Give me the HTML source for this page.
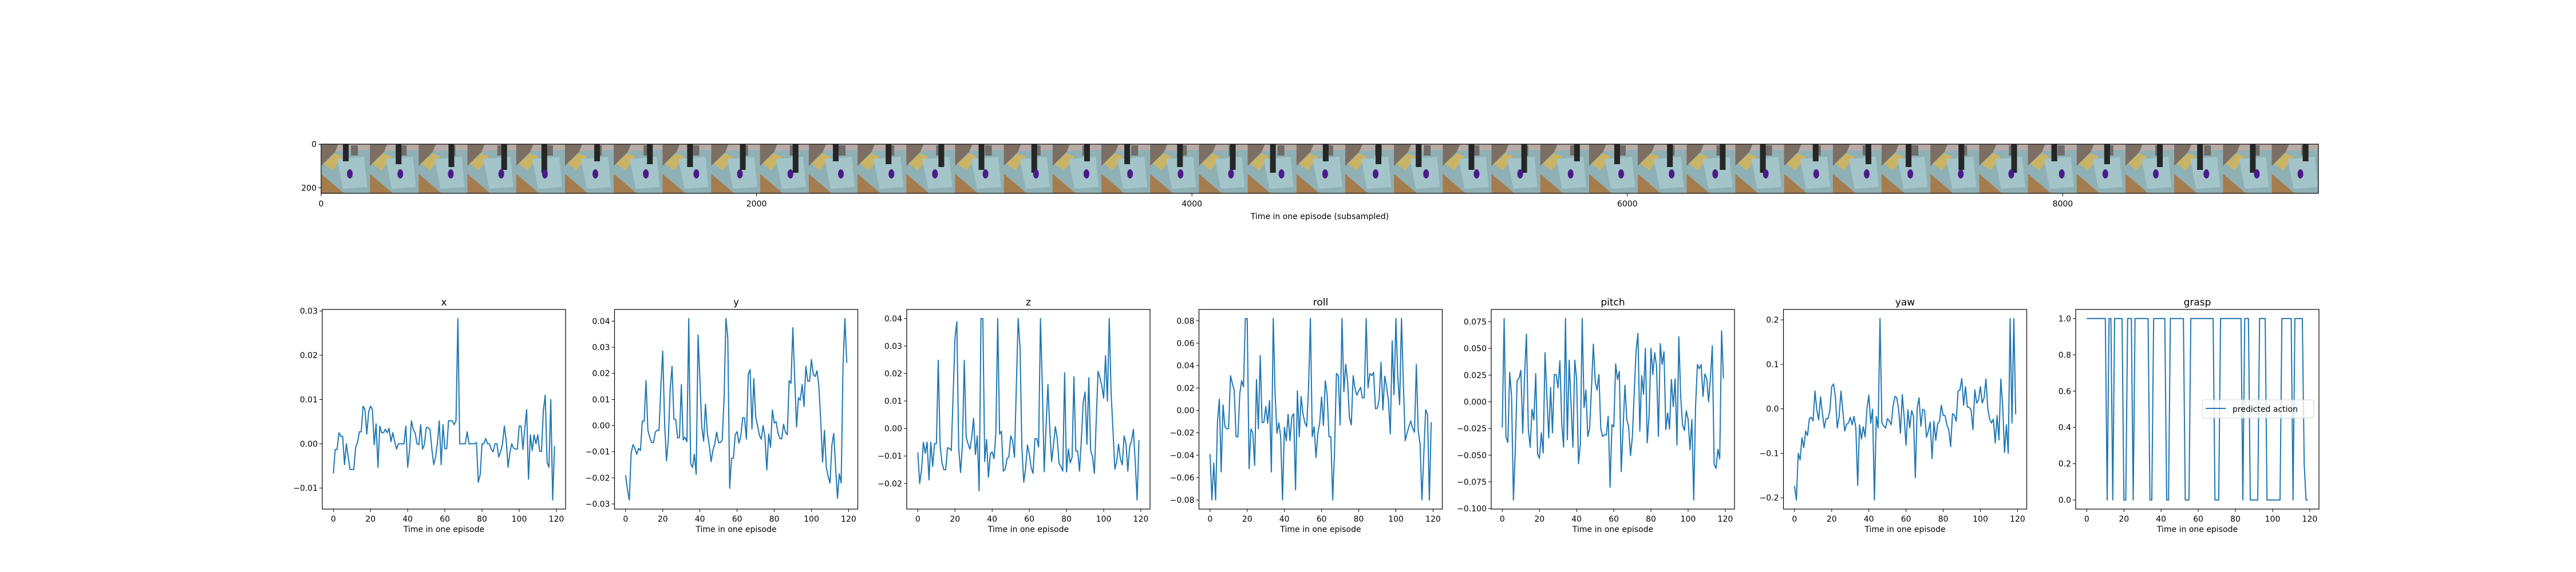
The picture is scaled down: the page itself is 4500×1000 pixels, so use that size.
<!DOCTYPE html>
<html><head><meta charset="utf-8"><style>
html,body{margin:0;padding:0;background:#fff;}
svg{display:block;font-family:"DejaVu Sans","Liberation Sans",sans-serif;}
</style></head><body>
<svg id="fig" width="4500" height="1000" viewBox="0 0 4500 1000" xmlns="http://www.w3.org/2000/svg">
<rect x="0" y="0" width="4500" height="1000" fill="#fff"/>
<defs>
<clipPath id="stripclip"><rect x="561" y="252" width="3489" height="86"/></clipPath>
</defs>
<g id="strip" clip-path="url(#stripclip)"></g>
<g id="stripaxes"></g>
<g id="plots"></g>
</svg>
<script>
const NS="http://www.w3.org/2000/svg";
const titles=["x","y","z","roll","pitch","yaw","grasp"];
const xTicks=[0,20,40,60,80,100,120];
const stripTicks=[0,2000,4000,6000,8000];
const stripYTicks=[0,200];
const xSeries=[-0.0067,-0.0013,-0.0013,0.0025,0.0017,0.0017,-0.0047,0,-0.003,-0.0058,-0.0058,-0.0058,-0.0008,0.0003,0.0027,0.0027,0.0085,0.0077,0.0022,0.0072,0.0085,0.0077,-0.0002,0.0045,-0.0053,0.004,0.0025,0.0025,0.0033,0.0025,0.0035,0.0005,0.0025,0.0005,-0.0012,0,0,0,0,0.004,-0.0053,-0.0015,0.0052,0.0032,0.0025,0,-0.0002,0.0043,-0.0012,-0.0002,0.0037,0.0037,0.0032,-0.0012,-0.0047,-0.003,0.0002,0.0052,-0.0047,0.0043,-0.0011,-0.0011,0.0052,0.0052,0.0052,0.0043,0.0052,0.0283,0,0,0,0,0.0027,0,0,0,0,0.0003,-0.0087,-0.007,0,0,0.0012,0,0,-0.0013,-0.0018,0,0,-0.003,-0.0018,0,0.004,0.0008,-0.0053,-0.002,0,-0.001,-0.0012,-0.0012,0.004,0.004,-0.0013,0.0035,0.0077,-0.008,0.002,-0.0015,0.002,0,0.002,-0.0017,-0.0017,0.0075,0.011,-0.0042,-0.0053,0.01,-0.0127,-0.0005];
const ySeries=[-0.019,-0.0245,-0.0285,-0.0105,-0.0073,-0.0087,-0.011,-0.0087,-0.0095,0.0017,0.0017,0.0172,-0.0017,-0.0045,-0.0065,-0.0065,-0.0025,-0.0018,-0.0018,0.015,0.0285,0.001,-0.0135,-0.0055,0.014,0.0227,0.0025,0.0023,-0.0048,-0.0045,0.0157,-0.0055,-0.0045,-0.0062,0.041,-0.0145,-0.016,-0.011,-0.0187,0.0347,0.0175,-0.0005,-0.006,0.0082,-0.003,-0.0075,-0.0138,-0.0095,-0.007,-0.0025,-0.0065,-0.0065,-0.0055,0.0105,0.041,0.0335,-0.024,-0.0125,-0.0125,-0.0035,-0.0023,-0.0067,-0.004,0.003,0.003,-0.0052,0.0195,0.0215,-0.0013,0.018,0.0035,0,-0.0037,-0.0052,0,-0.0045,-0.017,-0.0032,-0.0083,0.006,0.001,0.0015,-0.0028,-0.005,-0.005,0.0005,-0.0025,-0.0035,0.0172,0.0162,0.0375,0.018,-0.0005,0.0107,0.0097,0.0157,0.0073,0.0227,0.017,0.017,0.0253,0.0195,0.0188,0.021,0.015,0.002,-0.014,-0.0018,-0.016,-0.0195,-0.022,-0.0075,-0.003,-0.016,-0.0278,-0.0185,-0.022,0.023,0.041,0.024];
const zSeries=[-0.0087,-0.02,-0.015,-0.005,-0.009,-0.005,-0.0187,-0.005,-0.0138,-0.0055,-0.0055,0.0248,-0.006,-0.0125,-0.015,-0.015,-0.007,-0.0072,-0.008,0.012,0.033,0.0388,-0.007,-0.016,-0.006,0.0248,-0.003,-0.0055,-0.0075,-0.0035,0.0037,-0.0095,-0.0027,-0.0227,0.04,0.04,-0.012,-0.004,-0.0177,-0.0093,-0.0085,-0.011,-0.0015,0.04,-0.002,-0.001,-0.0155,-0.0148,-0.011,-0.0103,-0.0027,-0.0045,-0.0105,0.015,0.04,0.0295,-0.007,-0.0195,-0.0145,-0.006,-0.0093,-0.0143,-0.0163,-0.0037,-0.0037,-0.0067,0.04,0.015,-0.0157,0.0005,0.016,0,-0.012,-0.006,0.0007,-0.0035,-0.0127,-0.0138,-0.0155,0.0203,-0.0158,-0.0075,-0.0125,-0.0105,0.0188,-0.0082,-0.0082,-0.0155,-0.004,0.0095,0.0133,-0.0057,0.0185,-0.008,-0.0103,-0.0163,0.003,0.0208,0.0185,0.0155,0.011,0.0265,0.01,0.04,0.013,-0.0005,-0.0148,-0.012,-0.0057,-0.011,-0.0132,-0.0027,-0.0055,-0.0155,-0.0065,-0.0045,-0.0003,-0.0125,-0.026,-0.0042];
const rollSeries=[-0.039,-0.08,-0.047,-0.08,-0.01,0.01,-0.055,0.005,-0.0145,-0.0165,-0.016,0.031,0.024,0.018,-0.0235,-0.0235,0.015,0.0265,0.021,0.082,0.082,-0.052,-0.0165,-0.02,-0.049,0.0275,-0.0165,0.049,-0.011,-0.0105,0.0035,-0.0115,0.009,-0.055,0.082,0.015,-0.0205,-0.011,-0.0235,-0.08,-0.015,-0.027,-0.0035,-0.027,-0.0055,-0.003,-0.071,0.0175,-0.0235,0.0125,-0.003,-0.011,-0.0145,0.02,0.082,-0.0235,-0.0145,-0.042,-0.0205,-0.011,0.012,-0.0135,0.0265,0.014,-0.0235,-0.0235,-0.08,-0.035,0.033,0.031,-0.013,0.082,0.0165,0.041,0.026,-0.006,-0.013,0.031,0.0195,0.0135,0.0175,0.0205,0.011,0.0115,0.082,0.02,0.033,0.031,0.034,0.0015,0.002,0.01,0.043,0.0005,0.0305,0.021,0.008,-0.021,0.062,0.014,0.082,0.03,0.005,0.082,0.025,-0.027,-0.0205,-0.0145,-0.0095,-0.016,-0.0195,0.041,-0.018,-0.03,-0.08,-0.04,0.0005,-0.0035,-0.08,-0.0105];
const pitchSeries=[-0.024,0.078,-0.033,-0.038,0.0275,0.005,-0.092,-0.045,0.02,0.022,0.0295,-0.0295,0.025,0.0635,-0.025,-0.0425,-0.007,-0.017,0.0265,-0.049,-0.053,-0.029,-0.048,0.046,0.005,-0.034,0.0135,-0.029,0.0255,0.0255,0.013,0.0385,-0.02,-0.0425,0.078,-0.0355,0.039,-0.0025,-0.0425,0.039,0.0215,-0.058,-0.04,0.078,-0.0055,0.011,-0.0325,-0.025,0.013,0.054,0.019,0.011,0.0255,-0.025,-0.0325,-0.031,-0.031,-0.0135,-0.08,-0.0215,-0.0235,0.0355,0.021,0.0285,-0.0655,-0.0245,0.0155,-0.0165,-0.0235,-0.0505,-0.0325,0.009,0.048,0.064,-0.0275,0.0245,0.007,0.05,-0.0385,-0.0125,0.05,0.0255,0.046,0.0335,-0.0325,0.0545,0.035,0.047,-0.026,-0.0105,-0.0255,0.021,-0.0045,0.0215,-0.0405,0.061,0.005,-0.0215,-0.027,-0.0085,-0.0165,-0.045,-0.0165,-0.092,-0.004,0.035,0.031,0.035,0.005,0.026,0.022,0,0.0225,0.0525,-0.0585,-0.0625,-0.0445,-0.0535,0.0665,0.022];
const yawSeries=[-0.173,-0.205,-0.1,-0.115,-0.065,-0.087,-0.05,-0.06,-0.022,-0.019,-0.027,0.04,-0.002,-0.025,0.027,-0.01,-0.043,-0.022,-0.022,-0.005,0.05,0.056,0.027,-0.043,-0.017,0.04,-0.005,-0.05,-0.035,-0.032,-0.019,-0.036,-0.017,-0.043,-0.172,-0.036,-0.068,-0.04,-0.063,0.001,0.031,-0.032,-0.001,-0.205,-0.017,-0.043,0.203,-0.031,-0.039,-0.043,-0.022,-0.027,-0.036,0.005,0.028,0.025,-0.001,-0.055,0.032,-0.019,-0.082,-0.002,-0.043,-0.004,-0.017,-0.155,0.002,0.025,-0.039,-0.001,-0.004,-0.064,-0.05,-0.03,-0.112,-0.028,-0.071,-0.034,-0.028,0.008,-0.015,-0.015,-0.036,-0.047,-0.085,-0.011,-0.014,-0.028,0.04,0.042,0.068,0.008,0.05,0.004,0.003,-0.002,-0.047,0.043,0.013,0.02,0.05,0.013,0.025,0.067,0.001,-0.023,-0.032,-0.023,-0.077,-0.015,-0.07,0.067,0.008,-0.098,-0.036,-0.1,0.203,-0.032,0.203,-0.012];
const graspSeries=[1,1,1,1,1,1,1,1,1,1,1,0,1,1,0,1,1,1,1,1,0,0,1,1,1,0,1,1,1,1,1,1,1,1,0,0,1,1,1,1,1,1,1,0,0,1,1,1,1,1,1,1,1,0,0,0,1,1,1,1,1,1,1,1,1,1,1,1,1,0,0,0,1,1,1,1,1,1,1,1,1,1,1,1,0,1,1,1,0,0,0,0,0,1,1,1,1,0,0,0,0,0,0,0,0,1,1,1,1,1,1,0,1,1,1,1,1,0.2,0,0];
const xYTicks=[-0.01,0,0.01,0.02,0.03];
const yYTicks=[-0.03,-0.02,-0.01,0,0.01,0.02,0.03,0.04];
const zYTicks=[-0.02,-0.01,0,0.01,0.02,0.03,0.04];
const rollYTicks=[-0.08,-0.06,-0.04,-0.02,0,0.02,0.04,0.06,0.08];
const pitchYTicks=[-0.1,-0.075,-0.05,-0.025,0,0.025,0.05,0.075];
const yawYTicks=[-0.2,-0.1,0,0.1,0.2];
const graspYTicks=[0,0.2,0.4,0.6,0.8,1.0];

const series=[xSeries,ySeries,zSeries,rollSeries,pitchSeries,yawSeries,graspSeries];
const yticks=[xYTicks,yYTicks,zYTicks,rollYTicks,pitchYTicks,yawYTicks,graspYTicks];
const decs=[2,2,2,2,3,1,1];

function mk(tag,attrs,parent){const e=document.createElementNS(NS,tag);for(const k in attrs)e.setAttribute(k,attrs[k]);if(parent)parent.appendChild(e);return e;}
function fmt(v,d){const s=Math.abs(v).toFixed(d);return (v< -1e-12?"\u2212":"")+s;}

// ---------- image strip ----------
const strip=document.getElementById('strip');
const SX0=561,SY0=252,SW=3489,SH=86,UNIT=0.3803,FRAMEU=224;
const nFrames=41;
for(let i=0;i<nFrames;i++){
  const fx=SX0+i*FRAMEU*UNIT, fw=FRAMEU*UNIT;
  const g=mk('g',{transform:`translate(${fx},${SY0}) scale(${fw/85},${SH/86})`},strip);
  
  
  mk('rect',{x:0,y:0,width:85,height:86,fill:'#b8aca8'},g);
  mk('polygon',{points:'0,0 30,0 22,20 0,40',fill:'#7d6e64'},g);
  mk('polygon',{points:'0,50 40,86 0,86',fill:'#a57c4e'},g);
  mk('polygon',{points:'0,38 26,12 85,10 85,86 40,86 0,52',fill:'#8fb0b4'},g);
  mk('polygon',{points:'4,34 24,16 38,22 20,46',fill:'#c9b466'},g);
  mk('polygon',{points:'28,26 75,22 80,75 38,78',fill:'#a3c4c8'},g);
  mk('rect',{x:52,y:2,width:12,height:18,fill:'#6f6c6a'},g);
  const ax=38+ (i*7)%22;
  mk('rect',{x:ax,y:0,width:10,height:30+(i*5)%25,fill:'#262626'},g);
  mk('ellipse',{cx:50+(i*3)%12,cy:52,rx:5,ry:8,fill:'#4b1a8a'},g);
}
const sa=document.getElementById('stripaxes');
mk('rect',{x:SX0,y:SY0,width:SW,height:SH,fill:'none',stroke:'#000','stroke-width':1.2},sa);
for(const t of stripTicks){
  const x=SX0+t*UNIT;
  const l=mk('line',{x1:x,y1:SY0+SH,x2:x,y2:SY0+SH+5,stroke:'#000','stroke-width':1},sa);
  
  
  const tx=mk('text',{x:x,y:361,'font-size':14,'text-anchor':'middle',fill:'#000'},sa);
  tx.textContent=String(t);
  
  
}
for(const t of stripYTicks){
  const y=SY0+0.5*UNIT+t*UNIT;
  mk('line',{x1:SX0-5,y1:y,x2:SX0,y2:y,stroke:'#000','stroke-width':1},sa);
  const tx=mk('text',{x:SX0-8,y:y+5,'font-size':14,'text-anchor':'end',fill:'#000'},sa);
  tx.textContent=String(t);
  
  
}
const sxl=mk('text',{x:SX0+SW/2,y:383,'font-size':14,'text-anchor':'middle',fill:'#000'},sa);
sxl.textContent='Time in one episode (subsampled)';



// ---------- subplots ----------
const plots=document.getElementById('plots');
const AX0=563,AXSTEP=510.5,AW=425,AT=541,AB=890;
const XMIN=-5.95,XMAX=124.95;
for(let p=0;p<7;p++){
  const L=AX0+p*AXSTEP, R=L+AW;
  const data=series[p], ticks=yticks[p];
  const lo=Math.min(...data), hi=Math.max(...data), m=(hi-lo)*0.05;
  const ymin=lo-m, ymax=hi+m;
  const xs=v=>L+(v-XMIN)/(XMAX-XMIN)*AW;
  const ys=v=>AB-(v-ymin)/(ymax-ymin)*(AB-AT);
  const g=mk('g',{},plots);
  
  
  let d='';
  data.forEach((v,i)=>{d+=(i?'L':'M')+xs(i).toFixed(2)+','+ys(v).toFixed(2);});
  const path=mk('path',{d:d,fill:'none',stroke:'#1f77b4','stroke-width':2,'stroke-linejoin':'round'},g);
  
  
  const fr=mk('rect',{x:L,y:AT,width:AW,height:AB-AT,fill:'none',stroke:'#000','stroke-width':1.2},g);
  
  
  for(const t of xTicks){
    const x=xs(t);
    mk('line',{x1:x,y1:AB,x2:x,y2:AB+5,stroke:'#000','stroke-width':1},g);
    const tx=mk('text',{x:x,y:AB+22,'font-size':14,'text-anchor':'middle',fill:'#000'},g);
    tx.textContent=String(t);
    
    
  }
  for(const t of ticks){
    const y=ys(t);
    mk('line',{x1:L-5,y1:y,x2:L,y2:y,stroke:'#000','stroke-width':1},g);
    const tx=mk('text',{x:L-8,y:y+5,'font-size':14,'text-anchor':'end',fill:'#000'},g);
    tx.textContent=fmt(t,decs[p]);
    
    
  }
  const xl=mk('text',{x:L+AW/2,y:AB+40,'font-size':14,'text-anchor':'middle',fill:'#000'},g);
  xl.textContent='Time in one episode';
  
  
  const tt=mk('text',{x:L+AW/2,y:AT-7,'font-size':17,'text-anchor':'middle',fill:'#000'},g);
  tt.textContent=titles[p];
  
  
  if(p===6){
    const lg=mk('g',{},g);
    
    
    mk('rect',{x:3847,y:699,width:195,height:32,rx:3,fill:'#fff','fill-opacity':0.8,stroke:'#d0d0d0','stroke-width':1},lg);
    mk('line',{x1:3853,y1:714,x2:3888,y2:714,stroke:'#1f77b4','stroke-width':2},lg);
    const lt=mk('text',{x:3900,y:720,'font-size':14,fill:'#000'},lg);
    lt.textContent='predicted action';
    
    
  }
}
</script>
</body></html>
